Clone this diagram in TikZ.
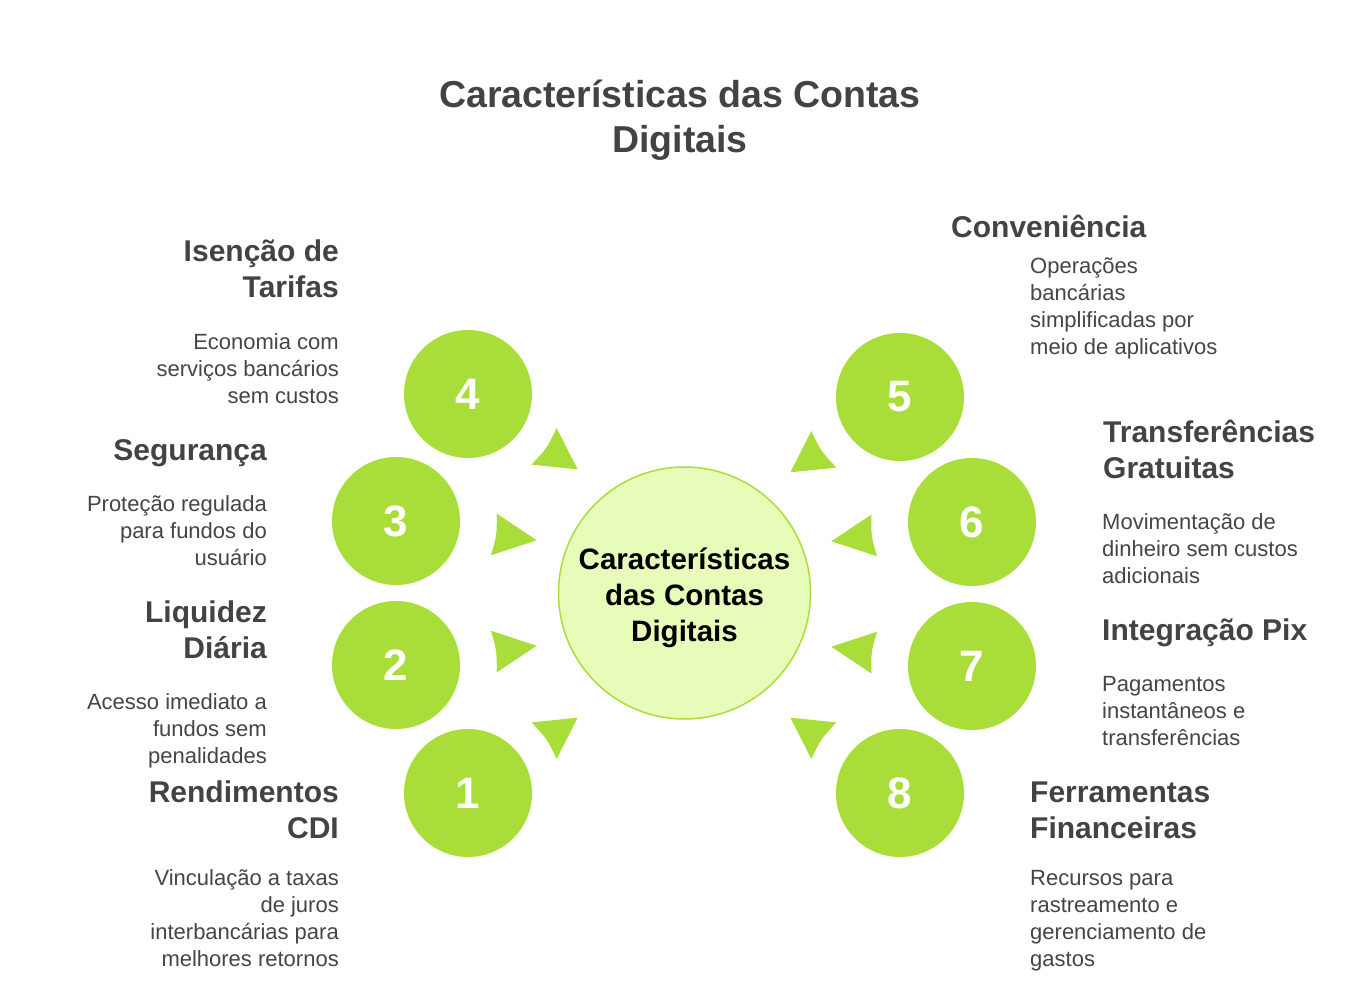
\documentclass[tikz,border=0pt]{standalone}
\usepackage{fontspec}
\setmainfont{Liberation Sans}
\usetikzlibrary{calc}
\definecolor{leaf}{HTML}{A9DE3A}
\definecolor{pale}{HTML}{E7FCB9}
\definecolor{ink}{HTML}{434343}
\definecolor{txt}{HTML}{454545}
\newcommand\tipshape[5]{% circle, angle, back radius, tip radius, half span
  \fill[leaf] ($(#1)+(#2:#4)$) -- ($(#1)+(#2-#5:#3)$)
    .. controls ($(#1)+(#2:#3+0.8)$) .. ($(#1)+(#2+#5:#3)$) -- cycle;}
\begin{document}
\begin{tikzpicture}[x=1pt,y=-1pt,
  numdot/.style={circle,fill=leaf,minimum size=128pt,inner sep=0pt,text=white,font=\fontsize{44}{50}\selectfont\bfseries},
  hub/.style={circle,fill=pale,draw=leaf,line width=1.5pt,minimum size=252pt,inner sep=0pt},
  hubtext/.style={align=center,inner sep=0pt,font=\fontsize{29.5}{36}\selectfont\bfseries,text=black},
  headR/.style={anchor=base east,align=right,inner sep=0pt,text=ink,font=\fontsize{30}{36}\selectfont\bfseries},
  headL/.style={anchor=base west,align=left,inner sep=0pt,text=ink,font=\fontsize{30}{36}\selectfont\bfseries},
  descR/.style={anchor=base east,align=right,inner sep=0pt,text=txt,font=\fontsize{22}{27}\selectfont},
  descL/.style={anchor=base west,align=left,inner sep=0pt,text=txt,font=\fontsize{22}{27}\selectfont}]
\useasboundingbox (0,0) rectangle (1370,992);
\fill[white] (0,0) rectangle (1370,992);

\node[anchor=base,align=center,inner sep=0pt,text=ink,font=\fontsize{37.5}{45}\selectfont\bfseries] (title) at (680,152.5) {Características das Contas\\Digitais};

\node[hub] (hub) at (684.5,593) {};
\node[hubtext] (hubtxt) at ([yshift=-5pt]hub.center) {Características\\das Contas\\Digitais};

\node[numdot] (n4) at (468,394) {4};
\node[numdot] (n3) at (396,521) {3};
\node[numdot] (n2) at (396,665) {2};
\node[numdot] (n1) at (468,793) {1};
\node[numdot] (n5) at (900,397) {5};
\node[numdot] (n6) at (972,522) {6};
\node[numdot] (n7) at (972,666) {7};
\node[numdot] (n8) at (900,793) {8};

\tipshape{n4}{34.5}{95}{133}{13.5}
\tipshape{n3}{7.8}{101}{142}{12}
\tipshape{n2}{-7.8}{101}{142}{12}
\tipshape{n1}{-34.5}{95}{133}{13.5}
\tipshape{n5}{145.5}{95}{133}{13.5}
\tipshape{n6}{172.2}{101}{142}{12}
\tipshape{n7}{187.8}{101}{142}{12}
\tipshape{n8}{214.5}{95}{133}{13.5}

\node[headR] (h4) at (339,298) {Isenção de\\Tarifas};
\node[descR] (d4) at (339,403.5) {Economia com\\serviços bancários\\sem custos};
\node[headR] (h3) at (267,460) {Segurança};
\node[descR] (d3) at (267,565.5) {Proteção regulada\\para fundos do\\usuário};
\node[headR] (h2) at (267,658) {Liquidez\\Diária};
\node[descR] (d2) at (267,763.5) {Acesso imediato a\\fundos sem\\penalidades};
\node[headR] (h1) at (339,838) {Rendimentos\\CDI};
\node[descR] (d1) at (339,966.5) {Vinculação a taxas\\de juros\\interbancárias para\\melhores retornos};

\node[headL] (h5) at (951,238) {Conveniência};
\node[descL] (d5) at (1030,354.5) {Operações\\bancárias\\simplificadas por\\meio de aplicativos};
\node[headL] (h6) at (1103,478) {Transferências\\Gratuitas};
\node[descL] (d6) at (1102,583.5) {Movimentação de\\dinheiro sem custos\\adicionais};
\node[headL] (h7) at (1102,640) {Integração Pix};
\node[descL] (d7) at (1102,745.5) {Pagamentos\\instantâneos e\\transferências};
\node[headL] (h8) at (1030,838) {Ferramentas\\Financeiras};
\node[descL] (d8) at (1030,966.5) {Recursos para\\rastreamento e\\gerenciamento de\\gastos};
\end{tikzpicture}
\end{document}
